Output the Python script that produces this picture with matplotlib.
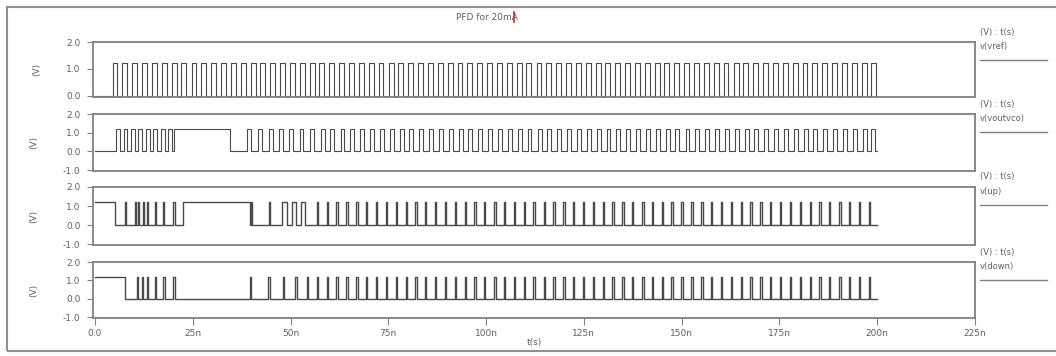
import matplotlib
matplotlib.use("Agg")
import matplotlib.pyplot as plt
from matplotlib.patches import Rectangle
from matplotlib.lines import Line2D

# all times in ns, levels in V
v_high = 1.2
t_stop = 200.0

# v(vref): reference clock, rising edges
vref_rise = [4.5, 7.0, 9.5, 12.1, 14.6, 17.1, 19.6, 22.1, 24.7, 27.2, 29.7, 32.2, 34.7,
             37.3, 39.8, 42.3, 44.8, 47.3, 49.9, 52.4, 54.9, 57.4, 59.9, 62.5, 65.0, 67.5,
             70.0, 72.5, 75.1, 77.6, 80.1, 82.6, 85.1, 87.7, 90.2, 92.7, 95.2, 97.7, 100.3,
             102.8, 105.3, 107.8, 110.3, 112.9, 115.4, 117.9, 120.4, 122.9, 125.5, 128.0,
             130.5, 133.0, 135.5, 138.1, 140.6, 143.1, 145.6, 148.1, 150.7, 153.2, 155.7,
             158.2, 160.7, 163.3, 165.8, 168.3, 170.8, 173.3, 175.9, 178.4, 180.9, 183.4,
             185.9, 188.5, 191.0, 193.5, 196.0, 198.5]
vref_width = 1.26
vref_hold = []

# v(voutvco): VCO output
vout_rise = [5.4, 7.3, 9.2, 11.1, 13.0, 14.9, 16.8, 18.7,
             38.8, 41.6, 44.4, 47.1, 49.7, 52.3, 54.9,
             57.7, 60.2, 62.8, 65.3, 67.8, 70.3, 72.8, 75.4, 77.9, 80.4, 82.9, 85.4, 88.0,
             90.5, 93.0, 95.5, 98.0, 100.6, 103.1, 105.6, 108.1, 110.6, 113.2, 115.7, 118.2,
             120.7, 123.2, 125.8, 128.3, 130.8, 133.3, 135.8, 138.4, 140.9, 143.4, 145.9,
             148.4, 151.0, 153.5, 156.0, 158.5, 161.0, 163.6, 166.1, 168.6, 171.1, 173.6,
             176.2, 178.7, 181.2, 183.7, 186.2, 188.8, 191.3, 193.8, 196.3, 198.5]
vout_width = 1.0
vout_hold = [(20.3, 34.5)]

# v(up): PFD up pulses
up_rise = [7.7, 10.2, 11.0, 12.2, 13.2, 15.3, 17.4, 20.0, 39.9, 44.5,
           56.7, 59.2, 61.7, 64.3, 66.8, 69.3, 71.8, 74.3, 76.9, 79.4, 81.9, 84.4, 86.9,
           89.5, 92.0, 94.5, 97.0, 99.5, 102.1, 104.6, 107.1, 109.6, 112.1, 114.7, 117.2,
           119.7, 122.2, 124.7, 127.3, 129.8, 132.3, 134.8, 137.3, 139.9, 142.4, 144.9,
           147.4, 149.9, 152.5, 155.0, 157.5, 160.0, 162.5, 165.1, 167.6, 170.1, 172.6,
           175.1, 177.7, 180.2, 182.7, 185.2, 187.7, 190.3, 192.8, 195.3, 197.8]
up_width = 0.35
up_hold = [(0.0, 5.1), (22.5, 39.6), (47.9, 49.1), (50.3, 51.5), (52.6, 53.8)]

# v(down): PFD down pulses
down_rise = [10.7, 12.0, 13.2, 15.3, 17.5, 20.0, 39.6, 44.3, 48.1, 51.2, 54.2,
             56.7, 59.2, 61.7, 64.3, 66.8, 69.3, 71.8, 74.3, 76.9, 79.4, 81.9, 84.4, 86.9,
             89.5, 92.0, 94.5, 97.0, 99.5, 102.1, 104.6, 107.1, 109.6, 112.1, 114.7, 117.2,
             119.7, 122.2, 124.7, 127.3, 129.8, 132.3, 134.8, 137.3, 139.9, 142.4, 144.9,
             147.4, 149.9, 152.5, 155.0, 157.5, 160.0, 162.5, 165.1, 167.6, 170.1, 172.6,
             175.1, 177.7, 180.2, 182.7, 185.2, 187.7, 190.3, 192.8, 195.3, 197.8]
down_width = 0.35
down_hold = [(0.0, 7.7)]

signals = [
    ("v(vref)", vref_rise, vref_width, vref_hold, (-0.05, 2.0), [0.0, 1.0, 2.0]),
    ("v(voutvco)", vout_rise, vout_width, vout_hold, (-1.05, 2.0), [-1.0, 0.0, 1.0, 2.0]),
    ("v(up)", up_rise, up_width, up_hold, (-1.05, 2.0), [-1.0, 0.0, 1.0, 2.0]),
    ("v(down)", down_rise, down_width, down_hold, (-1.05, 2.0), [-1.0, 0.0, 1.0, 2.0]),
]

xticks = [0, 25, 50, 75, 100, 125, 150, 175, 200, 225]
xtick_labels = ["0.0", "25n", "50n", "75n", "100n", "125n", "150n", "175n", "200n", "225n"]


def build_wave(rise, width, hold):
    """Turn high intervals into a step trace (t, v)."""
    spans = sorted(hold + [(r, r + width) for r in rise])
    t, v = [0.0], [0.0]
    for s, e in spans:
        if s <= 0:
            v[0] = v_high
        else:
            t += [s, s]
            v += [0.0, v_high]
        t += [e, e]
        v += [v_high, 0.0]
    t.append(t_stop)
    v.append(0.0)
    return t, v


W, H = 1056, 356
fig = plt.figure(figsize=(W / 100, H / 100), dpi=100)
fig.patch.set_facecolor("white")

# panel boxes in pixels: (top, bottom)
rows = [(42, 97), (114, 171), (187, 245), (262, 318)]
left_px, right_px = 93, 975
trace_col = "#4a4a4a"
frame_col = "#808080"
text_col = "#606060"

for i, ((name, rise, width, hold, ylim, yticks), (top, bot)) in enumerate(zip(signals, rows)):
    ax = fig.add_axes([left_px / W, 1 - bot / H, (right_px - left_px) / W, (bot - top) / H])
    t, v = build_wave(rise, width, hold)
    ax.plot(t, v, color=trace_col, lw=0.8 if i < 2 else 1.0)
    ax.set_xlim(-0.5, 225)
    ax.set_ylim(*ylim)
    ax.set_yticks(yticks)
    ax.set_yticklabels(["%.1f" % y for y in yticks])
    for sp in ax.spines.values():
        sp.set_color(frame_col)
        sp.set_linewidth(1.3)
    ax.tick_params(axis="y", colors=frame_col, labelcolor=text_col, labelsize=6.5,
                   length=4, width=0.8, pad=5)
    ax.set_ylabel("(V)", color=text_col, fontsize=6.5, labelpad=18)
    ax.set_xticks(xticks)
    if i == len(signals) - 1:
        ax.set_xticklabels(xtick_labels)
        ax.tick_params(axis="x", colors=frame_col, labelcolor=text_col, labelsize=6.5,
                       length=5, width=0.8, pad=3)
        ax.set_xlabel("t(s)", color=text_col, fontsize=6.5, labelpad=0)
    else:
        ax.tick_params(axis="x", length=0, labelbottom=False)

    # right-hand trace legend
    fig.text(980 / W, 1 - (top - 10) / H, "(V) : t(s)", color=text_col, fontsize=6,
             va="center", ha="left")
    fig.text(980 / W, 1 - (top + 5) / H, name, color=text_col, fontsize=6,
             va="center", ha="left")
    fig.add_artist(Line2D([980 / W, 1047 / W], [1 - (top + 18) / H] * 2,
                          color=frame_col, lw=1.0))

fig.text(487 / W, 1 - 17 / H, "PFD for 20mA", color=text_col, fontsize=6.5,
         ha="center", va="center")
fig.add_artist(Line2D([514 / W, 514 / W], [1 - 12 / H, 1 - 22 / H], color="#d02020", lw=1.2))

fig.add_artist(Rectangle((7 / W, 1 - 351 / H), 1060 / W, 344 / H, fill=False,
                         edgecolor="#909090", lw=1.5, transform=fig.transFigure))

fig.savefig("out.png", dpi=100)
